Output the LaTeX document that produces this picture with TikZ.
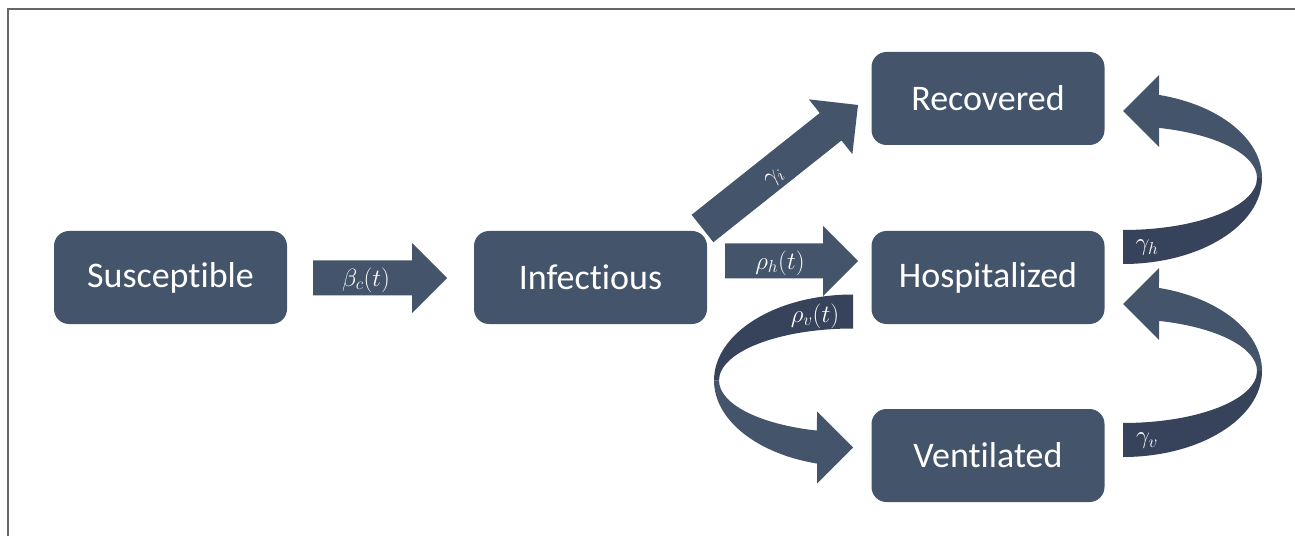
\documentclass[tikz,border=0pt]{standalone}
\usepackage{fontspec}
\setmainfont{Carlito}[RawFeature={-liga;-clig;-calt;-dlig}]
\usepackage{tikz}
\usetikzlibrary{positioning}
\usetikzlibrary{calc}

\definecolor{slate}{HTML}{44546A}
\definecolor{slatedark}{HTML}{36435A}

% straight fat arrow: start, angle, length
\newcommand{\fatarrow}[3]{\fill[flow,shift={(#1)},rotate=#2] (0,-17.5) -- (#3-35,-17.5) -- (#3-35,-35) -- (#3,0) -- (#3-35,35) -- (#3-35,17.5) -- (0,17.5) -- cycle;}

% bent (u-turn) arrow: centre, rotation
\newcommand{\bentarrow}[2]{%
\begin{scope}[shift={(#1)},rotate=#2]
\fill[flowdark] (0,-52) arc[start angle=-90,end angle=0,x radius=134pt,y radius=52pt] -- (139,0) arc[start angle=0,end angle=-90,x radius=139pt,y radius=86pt] -- cycle;
\fill[flow] (36,103) -- (0,67) -- (36,31) -- (74.4:134pt and 52pt) arc[start angle=74.4,end angle=0,x radius=134pt,y radius=52pt] -- (139,0) arc[start angle=0,end angle=75,x radius=139pt,y radius=86pt] -- cycle;
\end{scope}}

\begin{document}
\begin{tikzpicture}[x=1pt,y=1pt,
  box/.style={fill=slate,rounded corners=15pt,minimum width=233pt,minimum height=93pt,text=white,font=\fontsize{36}{43}\selectfont},
  flow/.style={fill=slate},
  flowdark/.style={fill=slatedark},
  lbl/.style={text=white,inner sep=0pt,font=\fontsize{25}{30}\selectfont}]
\useasboundingbox (0,0) rectangle (1295,536);
\draw[line width=1.5pt,color=black!60] (8,0) -- (8,527) -- (1295,527);

\node[box](S) at (170.5,258.5){Susceptible};
\node[box](I) at (590.5,258.5){Infectious};
\node[box](R) at (988,437.5){Recovered};
\node[box](H) at (988,258.5){Hospitalized};
\node[box](V) at (988,80.5){Ventilated};

\coordinate (SI) at (313,258);
\coordinate (IR) at (702.5,307.5);
\coordinate (IH) at (725,275);
\coordinate (IV) at (853,155.5);
\coordinate (HR) at (1123,358);
\coordinate (VH) at (1123,165);

\fatarrow{SI}{0}{134}
\fatarrow{IR}{38.46}{198.6}
\fatarrow{IH}{0}{133}
\bentarrow{IV}{180}
\bentarrow{HR}{0}
\bentarrow{VH}{0}

\node[lbl](bc) at (366,256){$\beta_c(t)$};
\node[lbl,rotate=38.5](gi) at (775,358){$\gamma_i$};
\node[lbl](rh) at (780,273){$\rho_h(t)$};
\node[lbl](rv) at (815,220){$\rho_v(t)$};
\node[lbl](gh) at (1147,288){$\gamma_h$};
\node[lbl](gv) at (1147,95){$\gamma_v$};
\end{tikzpicture}
\end{document}
